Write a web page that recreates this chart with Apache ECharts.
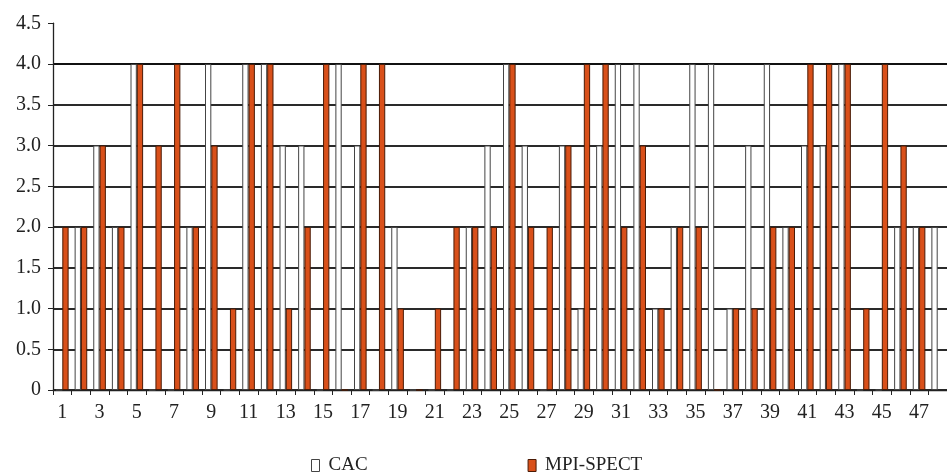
<!DOCTYPE html>
<html><head><meta charset="utf-8">
<script src="https://cdn.jsdelivr.net/npm/echarts@6/dist/echarts.min.js"></script>
<style>html,body{margin:0;padding:0;background:#fff}#c{width:947px;height:472px}</style>
</head><body><div id="c"></div>
<script>
const categories = ['1','2','3','4','5','6','7','8','9','10','11','12','13','14','15','16','17','18','19','20','21','22','23','24','25','26','27','28','29','30','31','32','33','34','35','36','37','38','39','40','41','42','43','44','45','46','47','48'];
const cacValues = [0,2,3,2,4,0,0,2,4,0, 4,4,3,3,0,4,3,0,2,0, 0,0,2,3,4,3,0,3,1,3, 4,4,1,2,4,4,1,3,4,2, 3,3,4,0,0,2,2,2];
const mpiValues = [2,2,3,2,4,3,4,2,3,1, 4,4,1,2,4,0,4,4,1,0, 1,2,2,2,4,2,2,3,4,4, 2,3,1,2,2,0,1,1,2,2, 4,4,4,1,4,3,2,null];
const seriesNames = ['CAC', 'MPI-SPECT'];
const yMin = 0, yMax = 4.5, yStep = 0.5;

const font = 'Liberation Serif';
const chart = echarts.init(document.getElementById('c'));
chart.setOption({
  animation: false,
  backgroundColor: '#fff',
  grid: { left: 53, right: -10, top: 23.25, bottom: 82 },
  legend: {
    left: 306, top: 451, itemWidth: 8, itemHeight: 12, itemGap: 160,
    textStyle: { fontFamily: font, fontSize: 19, color: '#222', padding: [0,0,0,4] },
    data: [
      { name: seriesNames[0], icon: 'rect', itemStyle: { color: '#fff', borderColor: '#444', borderWidth: 1 } },
      { name: seriesNames[1], icon: 'rect', itemStyle: { color: '#D9501A', borderColor: '#4a1a05', borderWidth: 1 } }
    ]
  },
  xAxis: {
    type: 'category', data: categories,
    axisLine: { lineStyle: { color: '#222', width: 1.3 } },
    axisTick: { show: true, interval: 0, length: 5, lineStyle: { color: '#222' } },
    axisLabel: { interval: 1, fontFamily: font, fontSize: 20, color: '#222', margin: 13 },
    splitLine: { show: false }
  },
  yAxis: {
    type: 'value', min: yMin, max: yMax, interval: yStep,
    axisLine: { show: true, lineStyle: { color: '#222', width: 1.3 } },
    axisTick: { show: true, length: 5, lineStyle: { color: '#222' } },
    axisLabel: { fontFamily: font, fontSize: 20, color: '#222', margin: 12,
      formatter: v => v === 0 ? '0' : v.toFixed(1) },
    splitLine: { show: true, showMaxLine: false,
      lineStyle: { color: ['#2a2a2a','#2a2a2a','#2a2a2a','#2a2a2a','#2a2a2a','#2a2a2a','#2a2a2a','#2a2a2a','#111','rgba(0,0,0,0)'], width: 2 } }
  },
  series: [
    { name: seriesNames[0], type: 'bar', data: cacValues, barWidth: 6.3, barGap: '0%',
      itemStyle: { color: '#fff', borderColor: '#444', borderWidth: 1 } },
    { name: seriesNames[1], type: 'bar', data: mpiValues, barWidth: 6.3, barGap: '0%',
      itemStyle: { color: '#D9501A', borderColor: '#4a1a05', borderWidth: 1 } }
  ]
});
</script></body></html>
